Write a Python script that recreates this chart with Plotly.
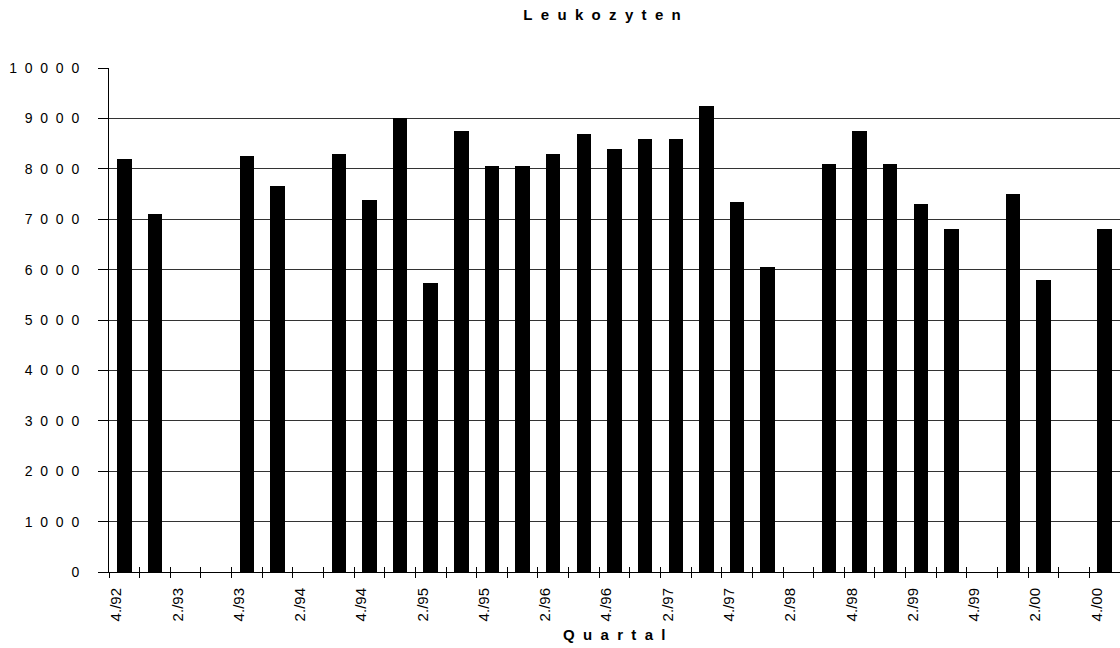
import plotly.graph_objects as go

quarters = ["4./92", "1./93", "2./93", "3./93", "4./93", "1./94", "2./94", "3./94",
            "4./94", "1./95", "2./95", "3./95", "4./95", "1./96", "2./96", "3./96",
            "4./96", "1./97", "2./97", "3./97", "4./97", "1./98", "2./98", "3./98",
            "4./98", "1./99", "2./99", "3./99", "4./99", "1./00", "2./00", "3./00",
            "4./00"]
leukozyten = [8200, 7100, None, None, 8250, 7650, None, 8300,
              7380, 9000, 5730, 8750, 8050, 8050, 8300, 8700,
              8400, 8600, 8600, 9250, 7350, 6050, None, 8100,
              8750, 8100, 7300, 6800, None, 7500, 5800, None,
              6800]
y_ticks = [0, 1000, 2000, 3000, 4000, 5000, 6000, 7000, 8000, 9000, 10000]
title_text = "Leukozyten"
x_title = "Quartal"

NB = "\u00a0"
FONT = "Liberation Sans, Arial, sans-serif"


def spaced(s, n=2):
    return (NB * n).join(list(s))


idx = list(range(len(quarters)))
boundaries = [i - 0.5 for i in range(len(quarters) + 1)]
label_pos = [i - 0.26 for i in idx if i % 2 == 0]
label_txt = [quarters[i] for i in idx if i % 2 == 0]
xr = [-0.5, len(quarters) - 0.5]

fig = go.Figure()
fig.add_trace(go.Bar(x=idx, y=leukozyten, width=0.47,
                     marker=dict(color="black", line=dict(width=0)),
                     hoverinfo="skip", showlegend=False))
fig.add_trace(go.Scatter(x=[None], y=[None], xaxis="x2", showlegend=False, hoverinfo="skip"))
fig.add_trace(go.Scatter(x=[None], y=[None], xaxis="x3", showlegend=False, hoverinfo="skip"))

fig.update_layout(
    width=1120, height=648,
    margin=dict(l=109, r=0, t=68, b=76),
    paper_bgcolor="white", plot_bgcolor="white",
    font=dict(family=FONT, color="black"),
    title=dict(text="<b>" + spaced(title_text) + "</b>", x=602 / 1120, xanchor="center",
               y=1 - 15 / 648, yanchor="middle", font=dict(size=15, family=FONT, color="black")),
    bargap=0,
    xaxis=dict(range=xr, tickmode="array", tickvals=boundaries, ticks="outside", ticklen=5,
               tickcolor="black", tickwidth=1, showticklabels=False, showline=True,
               linecolor="black", linewidth=1, showgrid=False, zeroline=False, automargin=False),
    xaxis2=dict(range=xr, overlaying="x", anchor="y", side="bottom", tickmode="array",
                tickvals=boundaries, ticks="inside", ticklen=5, tickcolor="black", tickwidth=1,
                showticklabels=False, showline=False, showgrid=False, zeroline=False,
                automargin=False),
    xaxis3=dict(range=xr, overlaying="x", anchor="y", side="bottom", tickmode="array",
                tickvals=label_pos, ticktext=label_txt, ticks="", tickangle=-90,
                tickfont=dict(size=15, family=FONT, color="black"), ticklabelstandoff=12,
                showline=False, showgrid=False, zeroline=False, automargin=False),
    yaxis=dict(range=[0, 10000], tickmode="array", tickvals=y_ticks,
               ticktext=[spaced(str(v)) for v in y_ticks], ticks="outside", ticklen=10,
               tickcolor="black", tickwidth=1, ticklabelstandoff=16,
               tickfont=dict(size=14, family=FONT, color="black"),
               showgrid=True, gridcolor="#333333", gridwidth=1,
               showline=True, linecolor="black", linewidth=1, zeroline=False, automargin=False),
    annotations=[dict(text="<b>" + spaced(x_title) + "</b>", xref="paper", yref="paper",
                      x=0.5, y=(572.3 - 635) / 504, xanchor="center", yanchor="middle",
                      showarrow=False, font=dict(size=15, family=FONT, color="black"))],
)

fig.write_html("out.html")
